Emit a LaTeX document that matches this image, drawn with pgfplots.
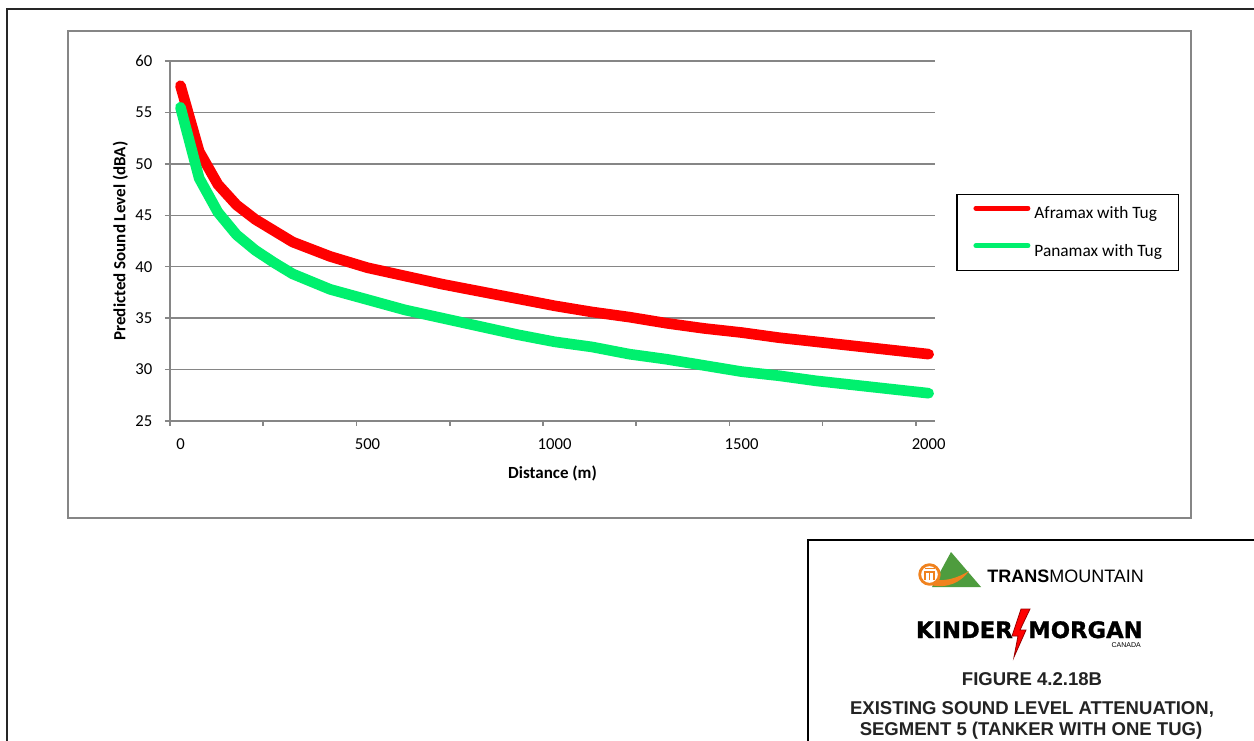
\documentclass[border=0pt]{standalone}
\usepackage{fontspec}
\usepackage{pgfplots}
\pgfplotsset{compat=1.18}
\setmainfont{Carlito}
\newfontfamily\arialfont{Liberation Sans}
\newfontfamily\kmfont[BoldFeatures={FakeBold=1.2}]{DejaVu Sans}
\definecolor{gridgray}{RGB}{134,134,134}
\definecolor{aframax}{RGB}{255,0,0}
\definecolor{panamax}{RGB}{0,240,110}
\definecolor{tmgreen}{RGB}{78,156,62}
\definecolor{tmorange}{RGB}{240,130,30}
\definecolor{figtext}{RGB}{35,35,35}

% distance (m) vs predicted sound level (dBA)
\pgfplotstableread{
d     L
0     57.6
50    51.2
100   48.0
150   46.0
200   44.6
250   43.5
300   42.4
400   41.0
500   39.9
600   39.1
700   38.3
800   37.6
900   36.9
1000  36.2
1100  35.6
1200  35.1
1300  34.5
1400  34.0
1500  33.6
1600  33.1
1700  32.7
1800  32.3
1900  31.9
2000  31.5
}\aframax
\pgfplotstableread{
d     L
0     55.5
50    48.6
100   45.3
150   43.1
200   41.6
250   40.4
300   39.3
400   37.8
500   36.8
600   35.8
700   35.0
800   34.2
900   33.4
1000  32.7
1100  32.2
1200  31.5
1300  31.0
1400  30.4
1500  29.8
1600  29.4
1700  28.9
1800  28.5
1900  28.1
2000  27.7
}\panamax

\begin{document}
\begin{tikzpicture}[x=0.75pt, y=0.75pt, px/.style={line width=#1*0.75pt}]
\fill[white] (0,0) rectangle (1254,740);
\useasboundingbox (0,0) rectangle (1254,740);
% page frame
\draw[black!85, px=1.5] (7,-2) -- (7,731) -- (1256,731);
% chart area
\draw[gridgray, px=2] (68,222) rectangle (1191,709);
\coordinate (axorigin) at (170,319);

\begin{axis}[
  at={(axorigin)}, anchor=south west,
  scale only axis, width=573.75pt, height=270pt,
  xmin=-28, xmax=2017, ymin=25, ymax=60,
  clip=false,
  axis lines*=left,
  axis line style={draw=gridgray, line width=1.1pt},
  tick align=outside,
  major tick length=3.75pt,
  tick style={draw=gridgray, line width=1.1pt},
  ytick={25,30,...,60},
  xtick={-28,221,470,720,969,1218,1467,1716,1966},
  xticklabels={},
  extra x ticks={0,500,1000,1500,2000},
  extra x tick labels={0,500,1000,1500,2000},
  extra x tick style={major tick length=0pt, grid=none},
  ymajorgrids,
  grid style={draw=gridgray, line width=1.1pt},
  /pgf/number format/assume math mode=true,
  tick label style={font=\fontsize{12.5pt}{14pt}\selectfont},
  xticklabel style={yshift=-9.5pt},
  yticklabel style={xshift=-6pt},
  ylabel={Predicted Sound Level (dBA)},
  xlabel={Distance (m)},
  every axis y label/.style={at={(axis description cs:-0.065,0.5)}, rotate=90, anchor=center,
    font=\bfseries\fontsize{12.75pt}{14pt}\selectfont},
  every axis x label/.style={at={(axis description cs:0.5,-0.147)}, anchor=center,
    font=\bfseries\fontsize{12.75pt}{14pt}\selectfont},
  legend style={
    at={(axis description cs:1.0275,0.6306)}, anchor=north west,
    draw=black, line width=1.1pt, fill=white,
    inner xsep=12.5pt, inner ysep=8.25pt, row sep=15.75pt,
    font=\fontsize{13pt}{14pt}\selectfont,
    nodes={inner sep=0pt, text height=9.4pt, text depth=2.6pt},
    /tikz/every odd column/.append style={column sep=3pt},
  },
  legend cell align=left,
  legend image code/.code={\draw[#1, line width=3.75pt, line cap=round] (1pt,4.5pt) -- (40pt,4.5pt);},
]
\addplot[draw=aframax, line width=8pt, line cap=round, line join=round] table[x=d, y=L] {\aframax};
\addlegendentry{Aframax with Tug}
\addplot[draw=panamax, line width=8pt, line cap=round, line join=round] table[x=d, y=L] {\panamax};
\addlegendentry{Panamax with Tug}
\end{axis}

% title block
\draw[black, px=1.5] (808,-2) -- (808,200) -- (1256,200);

% Trans Mountain mark
\fill[tmgreen] (932,153) -- (951,188) -- (981,153) -- cycle;
\fill[tmorange] (930,155) .. controls (948,151) and (961,158) .. (969,169)
  .. controls (958,162) and (946,159) .. (936,160) -- cycle;
\draw[tmorange, px=2.8, fill=white] (929.5,165.5) circle (9.8);
\draw[tmorange, px=1.6] (924.5,171.5) -- (934.5,171.5);
\draw[tmorange, px=1.6] (925,160) -- (925,168) -- (934,168) -- (934,160) (929.5,168) -- (929.5,160);
\node[anchor=base west, inner sep=0pt, text=black] at (987,157)
  {\arialfont\fontsize{13.5pt}{14pt}\selectfont\textbf{TRANS}MOUNTAIN};

% Kinder Morgan mark
\node[anchor=base east, inner sep=0pt] at (1013,102)
  {\kmfont\bfseries\fontsize{17pt}{18pt}\selectfont KINDER};
\node[anchor=base west, inner sep=0pt] at (1028,102)
  {\kmfont\bfseries\fontsize{17pt}{18pt}\selectfont MORGAN};
\filldraw[fill=red, draw=red!60!black, px=0.8] (1030,131) -- (1020,110) -- (1026,110)
  -- (1014,83) -- (1018,104) -- (1012,104) -- (1021,131) -- cycle;
\node[anchor=base east, inner sep=0pt] at (1141,93)
  {\arialfont\fontsize{5.25pt}{6pt}\selectfont CANADA};

% figure caption
\node[anchor=base, inner sep=0pt, text=figtext] at (1032,55)
  {\arialfont\bfseries\fontsize{13.9pt}{15pt}\selectfont FIGURE 4.2.18B};
\node[anchor=base, inner sep=0pt, text=figtext] at (1032,26)
  {\arialfont\bfseries\fontsize{13.9pt}{15pt}\selectfont EXISTING SOUND LEVEL ATTENUATION,};
\node[anchor=base, inner sep=0pt, text=figtext] at (1031,5)
  {\arialfont\bfseries\fontsize{13.9pt}{15pt}\selectfont SEGMENT 5 (TANKER WITH ONE TUG)};
\end{tikzpicture}
\end{document}
